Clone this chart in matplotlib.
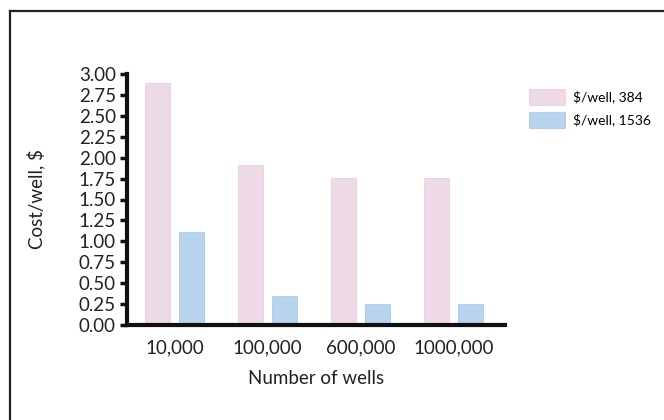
import numpy as np
import matplotlib.pyplot as plt
from matplotlib.lines import Line2D

# data
wells = ["10,000", "100,000", "600,000", "1000,000"]
cost_384 = [2.89, 1.91, 1.76, 1.76]
cost_1536 = [1.11, 0.35, 0.25, 0.25]
yticks = np.arange(0, 3.01, 0.25)

plt.rcParams['font.family'] = ['Lato', 'DejaVu Sans']

fig = plt.figure(figsize=(6.64, 4.2), dpi=100)
# axes: x 127..505 px, y 74..325 px (top to bottom)
ax = fig.add_axes([127/664, (420-325)/420, (505-127)/664, (325-74)/420])

x = np.arange(len(wells))
w = 0.27
off = 0.183
ax.bar(x - off, cost_384, w, color='#efdbe8', edgecolor='#e6cfe0', linewidth=0.6, label='$/well, 384')
ax.bar(x + off, cost_1536, w, color='#b9d5ee', edgecolor='#a9c9e8', linewidth=0.6, label='$/well, 1536')

ax.set_xlim(-0.51, 3.55)
ax.set_ylim(0, 3.0)
ax.set_yticks(yticks)
ax.set_yticklabels([f"{v:.2f}" for v in yticks], fontsize=13.5, color='#222222')
ax.set_xticks(x)
ax.set_xticklabels(wells, fontsize=13.5, color='#222222')
ax.tick_params(axis='y', direction='out', length=5, width=2.5, color='#111111', pad=3)
ax.tick_params(axis='x', length=0, pad=10)

for s in ['top', 'right']:
    ax.spines[s].set_visible(False)
for s in ['left', 'bottom']:
    ax.spines[s].set_linewidth(3)
    ax.spines[s].set_color('#111111')

ax.set_ylabel('Cost/well, $', fontsize=13.5, color='#222222', labelpad=24)
ax.set_xlabel('Number of wells', fontsize=13.5, color='#222222', labelpad=10)

ax.legend(loc='upper left', bbox_to_anchor=(1.03, 0.99), frameon=False,
          fontsize=10, handlelength=2.6, handleheight=1.4, handletextpad=0.6,
          labelspacing=0.5)

# outer frame (only top and left edges visible in the crop)
fig.add_artist(Line2D([10/664, 1], [1 - 11/420, 1 - 11/420], color='#222222', lw=1.6))
fig.add_artist(Line2D([10/664, 10/664], [0, 1 - 11/420], color='#222222', lw=1.6))

fig.savefig('out.png', dpi=100)
